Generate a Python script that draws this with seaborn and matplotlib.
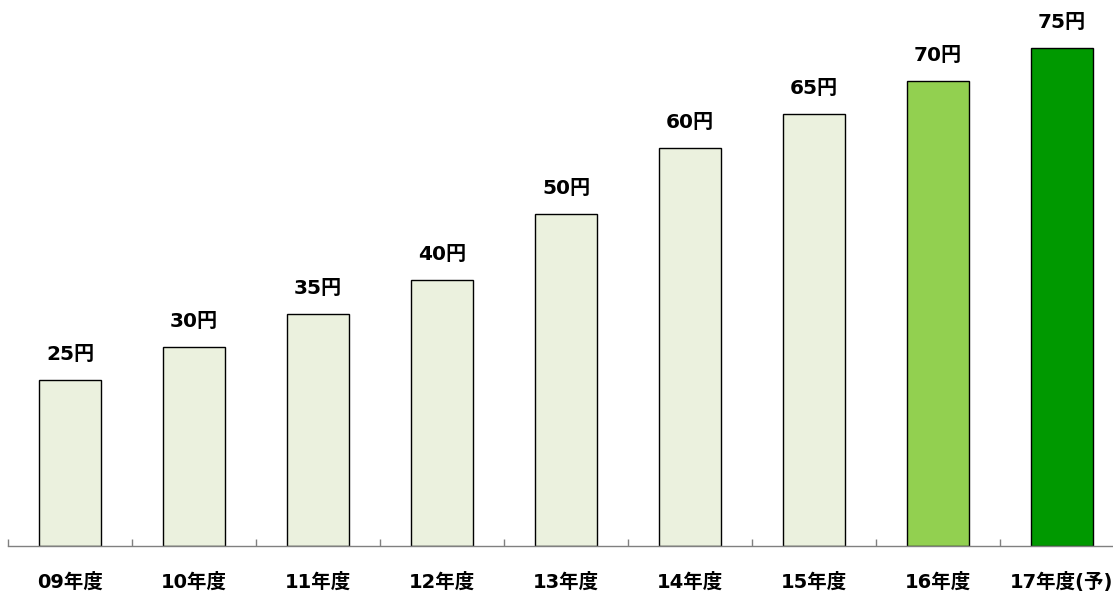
import matplotlib
matplotlib.use('Agg')
from matplotlib import pyplot as plt
from matplotlib.ticker import FixedLocator
import seaborn as sns

years = ['09年度', '10年度', '11年度', '12年度', '13年度', '14年度', '15年度', '16年度', '17年度(予)']
dividends = [25, 30, 35, 40, 50, 60, 65, 70, 75]
bar_colors = ['#EBF1DE'] * 7 + ['#92D050', '#009900']

sns.set_style('white')
plt.rcParams['font.family'] = ['DejaVu Sans', 'Noto Sans CJK JP']

fig = plt.figure(figsize=(11.13, 5.93), dpi=100)
ax = fig.add_axes([8 / 1113, 47 / 593, 1105 / 1113, 546 / 593])

sns.barplot(x=years, y=dividends, hue=years, palette=bar_colors, legend=False,
            width=0.5, edgecolor='black', linewidth=1, saturation=1, ax=ax)

for i, v in enumerate(dividends):
	ax.text(i, v + 3.0, f'{v}円', ha='center', va='baseline', fontsize=14.5,
	        fontweight='bold', color='black')

ax.set_xlim(-0.5, -0.5 + 1105 / 124)
ax.set_ylim(0, 546 / 6.64)
ax.set_xlabel('')
ax.set_ylabel('')
ax.set_yticks([])

for s in ['top', 'right', 'left']:
	ax.spines[s].set_visible(False)
ax.spines['bottom'].set_color('#808080')
ax.spines['bottom'].set_linewidth(1)

ax.xaxis.set_minor_locator(FixedLocator([i - 0.5 for i in range(10)]))
ax.tick_params(axis='x', which='minor', direction='in', length=5, color='#808080', width=1, bottom=True)
ax.tick_params(axis='x', which='major', length=0, pad=19, labelsize=14, labelcolor='black')
for lbl in ax.get_xticklabels():
	lbl.set_fontweight('bold')

plt.savefig('out.png', dpi=100)
